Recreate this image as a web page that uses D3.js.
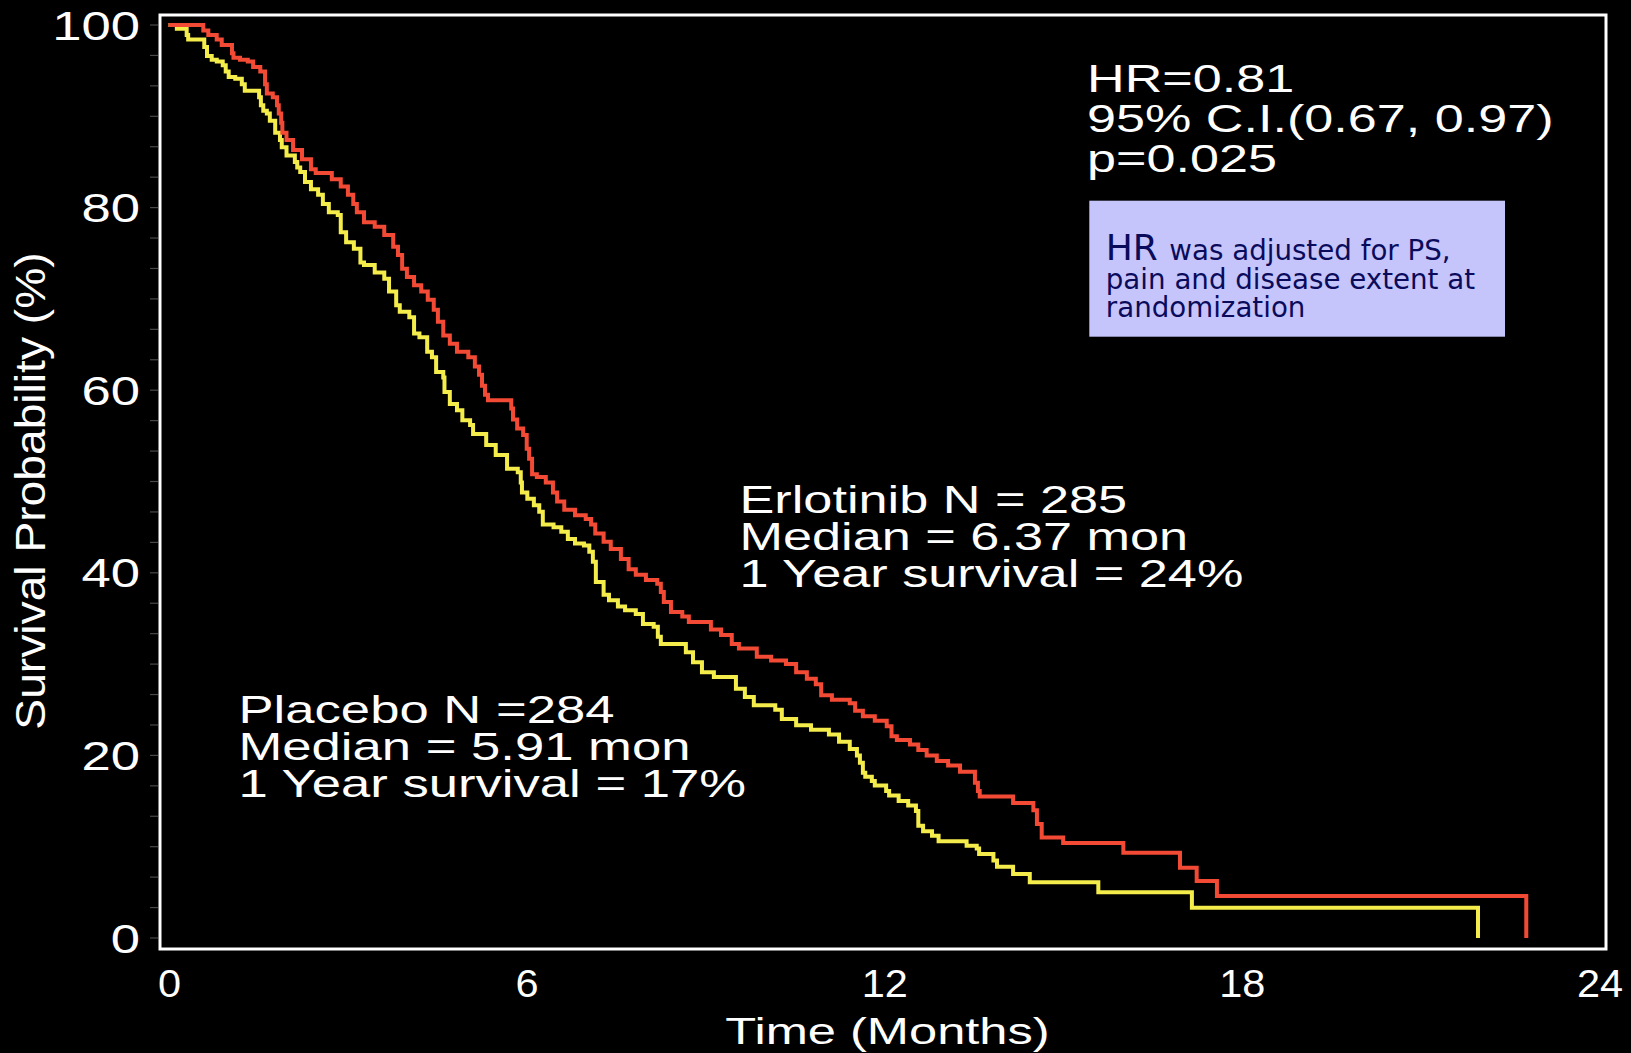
<!DOCTYPE html>
<html>
<head>
<meta charset="utf-8">
<script src="https://cdn.jsdelivr.net/npm/d3@7"></script>
<style>
  html, body { margin: 0; padding: 0; background: #000; overflow: hidden; }
  svg { display: block; }
</style>
</head>
<body>
<div id="km-chart"></div>
<script>

// Erlotinib arm (red) - step times (months) and survival (%)
var erlotinibTime = [0, 0.584, 0.668, 0.809, 0.893, 1.065, 1.09, 1.20, 1.33, 1.42, 1.54, 1.62, 1.65, 1.75, 1.82, 1.85, 1.89, 1.91, 1.98, 2.09,
	2.24, 2.39, 2.47, 2.74, 2.89, 3.01, 3.10, 3.16, 3.28, 3.46, 3.62, 3.77, 3.85, 3.92, 4.00, 4.12, 4.24, 4.35, 4.45, 4.52,
	4.61, 4.72, 4.84, 5.03, 5.14, 5.21, 5.26, 5.31, 5.36, 5.75, 5.78, 5.85, 5.95, 6.01, 6.05, 6.10, 6.18, 6.33, 6.45, 6.52,
	6.64, 6.82, 7.00, 7.09, 7.16, 7.30, 7.42, 7.59, 7.72, 7.84, 8.01, 8.20, 8.26, 8.31, 8.43, 8.62, 8.73, 9.10, 9.27, 9.45,
	9.57, 9.87, 10.11, 10.36, 10.53, 10.71, 10.86, 10.95, 11.13, 11.43, 11.52, 11.65, 11.85, 12.05, 12.13, 12.22, 12.44, 12.58, 12.72, 12.89,
	13.08, 13.28, 13.53, 13.58, 13.61, 14.17, 14.51, 14.57, 14.65, 15.01, 16.02, 16.97, 17.25, 17.59, 22.78];
var erlotinibSurv = [100, 99.4, 98.9, 98.4, 97.8, 96.9, 96.4, 96.2, 96.0, 95.4, 94.9, 93.5, 92.5, 92.1, 91.2, 90.3, 89.3, 88.2, 87.4, 86.3,
	85.3, 84.2, 83.8, 83.1, 82.3, 81.4, 80.4, 79.5, 78.4, 77.9, 77.0, 75.7, 74.8, 73.3, 72.4, 71.5, 70.8, 69.9, 68.8, 67.5,
	66.0, 65.1, 64.2, 63.6, 62.6, 61.7, 60.5, 59.5, 58.9, 58.0, 56.8, 55.8, 55.1, 53.6, 52.5, 50.8, 50.5, 49.9, 48.8, 47.8,
	46.9, 46.3, 45.9, 45.3, 44.3, 43.4, 42.6, 41.5, 40.4, 39.8, 39.2, 38.8, 37.9, 36.8, 35.7, 35.2, 34.6, 33.8, 33.2, 32.2,
	31.7, 30.8, 30.4, 30.0, 29.1, 28.4, 27.8, 26.6, 26.1, 25.7, 24.9, 24.3, 23.8, 23.2, 22.1, 21.7, 21.2, 20.6, 20.0, 19.4,
	18.9, 18.2, 17.0, 16.1, 15.5, 14.8, 14.0, 12.5, 11.0, 10.4, 9.35, 7.7, 6.25, 4.6, 0];

// Placebo arm (yellow)
var placeboTime = [0, 0.14, 0.305, 0.33, 0.60, 0.646, 0.725, 0.81, 0.91, 0.96, 1.01, 1.12, 1.23, 1.28, 1.52, 1.55, 1.59, 1.65, 1.70, 1.79,
	1.87, 1.90, 1.98, 2.12, 2.16, 2.21, 2.29, 2.39, 2.51, 2.59, 2.69, 2.84, 2.89, 2.98, 3.11, 3.22, 3.28, 3.46, 3.62, 3.70,
	3.82, 3.88, 4.04, 4.12, 4.21, 4.34, 4.42, 4.49, 4.61, 4.63, 4.72, 4.84, 4.93, 5.06, 5.11, 5.33, 5.49, 5.68, 5.86, 5.91,
	5.93, 6.02, 6.13, 6.22, 6.28, 6.46, 6.59, 6.70, 6.82, 6.97, 7.06, 7.12, 7.17, 7.30, 7.39, 7.54, 7.66, 7.84, 7.96, 8.14,
	8.21, 8.26, 8.68, 8.80, 8.95, 9.15, 9.52, 9.67, 9.82, 10.18, 10.29, 10.53, 10.78, 11.08, 11.25, 11.43, 11.55, 11.60, 11.65, 11.69,
	11.80, 11.85, 12.04, 12.09, 12.25, 12.41, 12.54, 12.58, 12.66, 12.81, 12.92, 13.39, 13.56, 13.60, 13.84, 13.90, 14.17, 14.45, 15.60, 17.17,
	21.97];
var placeboSurv = [100, 99.6, 98.9, 98.4, 97.6, 96.6, 96.2, 96.0, 95.6, 94.9, 94.3, 94.1, 93.5, 92.8, 92.1, 91.2, 90.6, 90.3, 89.5, 88.2,
	87.4, 86.6, 85.7, 85.0, 84.4, 83.9, 82.8, 82.0, 81.4, 80.4, 79.5, 79.2, 77.3, 76.2, 75.5, 74.0, 73.7, 72.9, 72.2, 70.8,
	69.3, 68.6, 68.0, 66.2, 65.8, 64.2, 63.6, 62.0, 61.4, 59.8, 58.5, 57.8, 56.7, 56.2, 55.2, 54.0, 52.9, 51.4, 51.0, 49.9,
	48.8, 48.1, 47.4, 46.7, 45.3, 45.0, 44.5, 43.7, 43.2, 43.0, 42.3, 41.2, 39.0, 37.6, 37.0, 36.3, 35.9, 35.5, 34.4, 34.1,
	33.0, 32.2, 31.3, 30.2, 29.1, 28.6, 27.3, 26.4, 25.5, 25.0, 24.0, 23.3, 22.8, 22.3, 21.5, 20.7, 20.0, 19.2, 18.1, 17.65,
	17.2, 16.7, 16.1, 15.6, 15.0, 14.5, 13.9, 12.3, 11.7, 11.2, 10.6, 10.1, 9.8, 9.2, 8.5, 7.8, 7.0, 6.1, 5.0, 3.3,
	0];

// Axis ticks
var xTicks = [0, 6, 12, 18, 24];
var yTicks = [0, 20, 40, 60, 80, 100];

// Annotation text
var hrLines = ["HR=0.81", "95% C.I.(0.67, 0.97)", "p=0.025"];
var erlotinibLines = ["Erlotinib N = 285", "Median = 6.37 mon", "1 Year survival = 24%"];
var placeboLines = ["Placebo N =284", "Median = 5.91 mon", "1 Year survival = 17%"];
var noteLines = ["pain and disease extent at", "randomization"];

var width = 1631, height = 1053;
var frame = {left: 160, top: 15, right: 1606, bottom: 949};

var svg = d3.select("#km-chart").append("svg")
	.attr("width", width)
	.attr("height", height)
	.style("font-family", "'Liberation Sans', Arial, sans-serif");

svg.append("rect")
	.attr("width", width)
	.attr("height", height)
	.attr("fill", "#000");

var xScale = d3.scaleLinear().domain([0, 24]).range([168.5, 1599]);
var yScale = d3.scaleLinear().domain([0, 100]).range([938, 25]);

// Text with horizontal stretch (the original slide text is wide)
function addText(parent, x, y, str, size, sx, anchor) {
	return parent.append("text")
		.attr("transform", "translate(" + x + "," + y + ") scale(" + sx + ",1)")
		.attr("text-anchor", anchor || "start")
		.attr("fill", "#fff")
		.style("font-size", size + "px")
		.text(str);
}

// multi-line block, one text element with tspans
function addBlock(parent, x, y, lines, size, sx, lead) {
	var t = parent.append("text")
		.attr("transform", "translate(" + x + "," + y + ") scale(" + sx + ",1)")
		.attr("fill", "#fff")
		.style("font-size", size + "px");
	t.selectAll("tspan")
		.data(lines)
		.enter().append("tspan")
		.attr("x", 0)
		.attr("y", function(d, i) { return i * lead; })
		.text(function(d) { return d; });
	return t;
}

// small ticks left of the frame
svg.append("g")
	.selectAll("line")
	.data(d3.range(0, 31).map(function(i) { return i * 100 / 30; }))
	.enter().append("line")
	.attr("x1", frame.left - 10)
	.attr("x2", frame.left - 2)
	.attr("y1", function(d) { return yScale(d); })
	.attr("y2", function(d) { return yScale(d); })
	.attr("stroke", "#4a4a4a")
	.attr("stroke-width", 1.2);

// frame
svg.append("rect")
	.attr("x", frame.left)
	.attr("y", frame.top)
	.attr("width", frame.right - frame.left)
	.attr("height", frame.bottom - frame.top)
	.attr("fill", "none")
	.attr("stroke", "#fff")
	.attr("stroke-width", 3);

// y tick labels
yTicks.forEach(function(v) {
	addText(svg, 140, yScale(v) + 14.5, v, 40.5, 1.3, "end");
});

// x tick labels
xTicks.forEach(function(v) {
	addText(svg, xScale(v) + 1, 997, v, 39.5, 1.05, "middle");
});

// axis titles
addText(svg, 887.5, 1044, "Time (Months)", 37.5, 1.35, "middle");
svg.append("text")
	.attr("transform", "translate(45,491) rotate(-90) scale(1.1,1)")
	.attr("text-anchor", "middle")
	.attr("fill", "#fff")
	.style("font-size", "42px")
	.text("Survival Probability (%)");

// KM curves
var line = d3.line()
	.x(function(d) { return xScale(d[0]); })
	.y(function(d) { return yScale(d[1]); })
	.curve(d3.curveStepAfter);

var curves = [
	{name: "Placebo", color: "#f3ec4b", pts: d3.zip(placeboTime, placeboSurv)},
	{name: "Erlotinib", color: "#f34a35", pts: d3.zip(erlotinibTime, erlotinibSurv)}
];

svg.selectAll(".km")
	.data(curves)
	.enter().append("path")
	.attr("class", "km")
	.attr("d", function(d) { return line(d.pts); })
	.attr("fill", "none")
	.attr("stroke", function(d) { return d.color; })
	.attr("stroke-width", 4)
	.attr("stroke-linejoin", "miter");

// annotations
addBlock(svg, 1087, 91.7, hrLines, 39.5, 1.32, 40);
addBlock(svg, 739.5, 512.7, erlotinibLines, 38.7, 1.35, 37);
addBlock(svg, 238.5, 723.3, placeboLines, 38.7, 1.36, 36.8);

// adjusted HR note box
var note = svg.append("g");
note.append("rect")
	.attr("x", 1089.3)
	.attr("y", 200.7)
	.attr("width", 415.7)
	.attr("height", 136)
	.attr("fill", "#c5c5fb");

var noteText = note.append("text")
	.attr("fill", "#0b0b5c")
	.style("font-family", "'DejaVu Sans', Verdana, sans-serif");
var first = noteText.append("tspan").attr("x", 1105.8).attr("y", 260);
first.append("tspan").style("font-size", "36px").text("HR ");
first.append("tspan").style("font-size", "27.7px").text("was adjusted for PS,");
noteLines.forEach(function(s, i) {
	noteText.append("tspan")
		.attr("x", 1105.8)
		.attr("y", 288.5 + i * 28.8)
		.style("font-size", "27.7px")
		.text(s);
});

</script>
</body>
</html>
